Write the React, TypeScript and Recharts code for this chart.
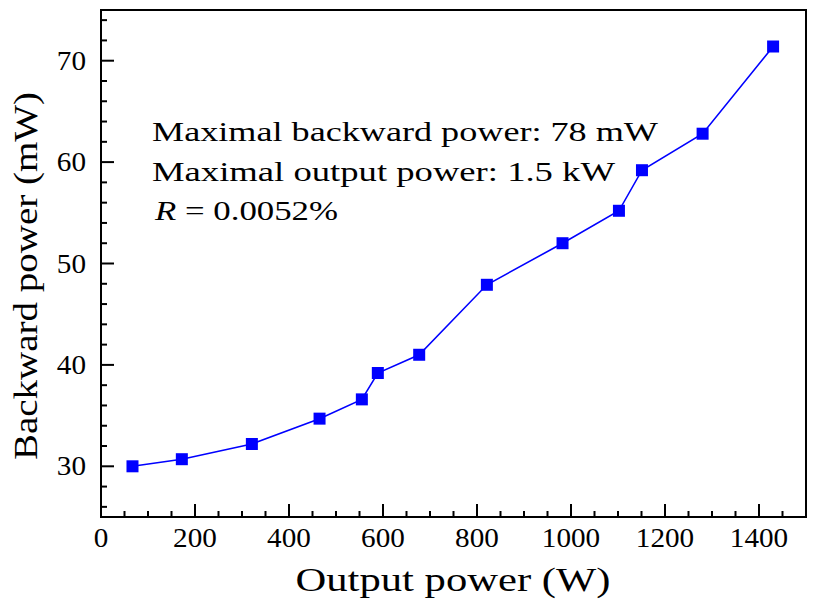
import React from "react";
import { Line, LineChart, ReferenceArea, XAxis, YAxis } from "recharts";

// measured data (output power in W, backward power in mW)
const outputPower = [67, 172, 321, 465, 555, 589, 677, 821, 982, 1102, 1151, 1280, 1430];
const backwardPower = [30.0, 30.7, 32.2, 34.7, 36.6, 39.2, 41.0, 47.9, 52.0, 55.2, 59.2, 62.8, 71.4];

const xMajorTicks = [0, 200, 400, 600, 800, 1000, 1200, 1400];
const yMajorTicks = [30, 40, 50, 60, 70];

const xTicks: number[] = [];
for (let v = 0; v <= 1500; v += 50) xTicks.push(v);
const yTicks: number[] = [];
for (let v = 26; v <= 74; v += 2) yTicks.push(v);

const data = outputPower.map((x, i) => ({ x, y: backwardPower[i] }));

const FONT = "Liberation Serif, serif";
const BLUE = "#0000ff";
const textStyle: React.CSSProperties = { fontFamily: FONT, fontWeight: 400 };

const XTick = ({ x, y, payload }: any) => {
	const major = xMajorTicks.includes(payload.value);
	const label = String(payload.value);
	return (
		<g>
			<line x1={x} y1={y} x2={x} y2={y - (major ? 13 : 6)} stroke="#000" strokeWidth={2} />
			{major && (
				<text
					x={x}
					y={y + 30}
					textAnchor="middle"
					style={textStyle}
					fontSize={27}
					fill="#000"
					textLength={label.length * 14.6}
					lengthAdjust="spacingAndGlyphs"
				>
					{label}
				</text>
			)}
		</g>
	);
};

const YTick = ({ x, y, payload }: any) => {
	const major = yMajorTicks.includes(payload.value);
	const label = String(payload.value);
	return (
		<g>
			<line x1={x} y1={y} x2={x + (major ? 13 : 6)} y2={y} stroke="#000" strokeWidth={2} />
			{major && (
				<text
					x={x - 15}
					y={y + 9}
					textAnchor="end"
					style={textStyle}
					fontSize={27}
					fill="#000"
					textLength={label.length * 14.6}
					lengthAdjust="spacingAndGlyphs"
				>
					{label}
				</text>
			)}
		</g>
	);
};

const SquareDot = ({ cx, cy }: any) => (
	<rect x={cx - 6} y={cy - 6} width={12} height={12} fill={BLUE} />
);

export default function App() {
	return (
		<div style={{ position: "absolute", left: 0, top: 0, width: 817, height: 609, background: "#fff" }}>
			<LineChart
				width={817}
				height={609}
				data={data}
				margin={{ top: 10, right: 11, bottom: 0, left: 0 }}
			>
				<ReferenceArea
					x1={0}
					x2={1500}
					y1={25}
					y2={75}
					fill="none"
					stroke="#000"
					strokeWidth={2}
					fillOpacity={0}
				/>
				<XAxis
					dataKey="x"
					type="number"
					domain={[0, 1500]}
					ticks={xTicks}
					interval={0}
					height={92}
					tickSize={0}
					tickMargin={0}
					axisLine={false}
					tickLine={false}
					tick={<XTick />}
				/>
				<YAxis
					dataKey="y"
					type="number"
					domain={[25, 75]}
					ticks={yTicks}
					interval={0}
					width={101}
					tickSize={0}
					tickMargin={0}
					axisLine={false}
					tickLine={false}
					tick={<YTick />}
				/>
				<Line
					type="linear"
					dataKey="y"
					stroke={BLUE}
					strokeWidth={1.6}
					dot={<SquareDot />}
					activeDot={false}
					isAnimationActive={false}
				/>
			</LineChart>
			<svg
				width={817}
				height={609}
				style={{ position: "absolute", left: 0, top: 0, pointerEvents: "none" }}
			>
				<g style={textStyle} fill="#000">
					<text x={152} y={141} fontSize={28} textLength={506} lengthAdjust="spacingAndGlyphs">
						Maximal backward power: 78 mW
					</text>
					<text x={152} y={181} fontSize={28} textLength={463} lengthAdjust="spacingAndGlyphs">
						Maximal output power: 1.5 kW
					</text>
					<text x={155} y={220} fontSize={28} textLength={183} lengthAdjust="spacingAndGlyphs">
						<tspan fontStyle="italic">R</tspan> = 0.0052%
					</text>
					<text
						x={453}
						y={591}
						fontSize={34}
						textAnchor="middle"
						textLength={315}
						lengthAdjust="spacingAndGlyphs"
					>
						Output power (W)
					</text>
					<text
						transform="translate(37, 276) rotate(-90)"
						x={0}
						y={0}
						fontSize={34}
						textAnchor="middle"
						textLength={368}
						lengthAdjust="spacingAndGlyphs"
					>
						Backward power (mW)
					</text>
				</g>
			</svg>
		</div>
	);
}
